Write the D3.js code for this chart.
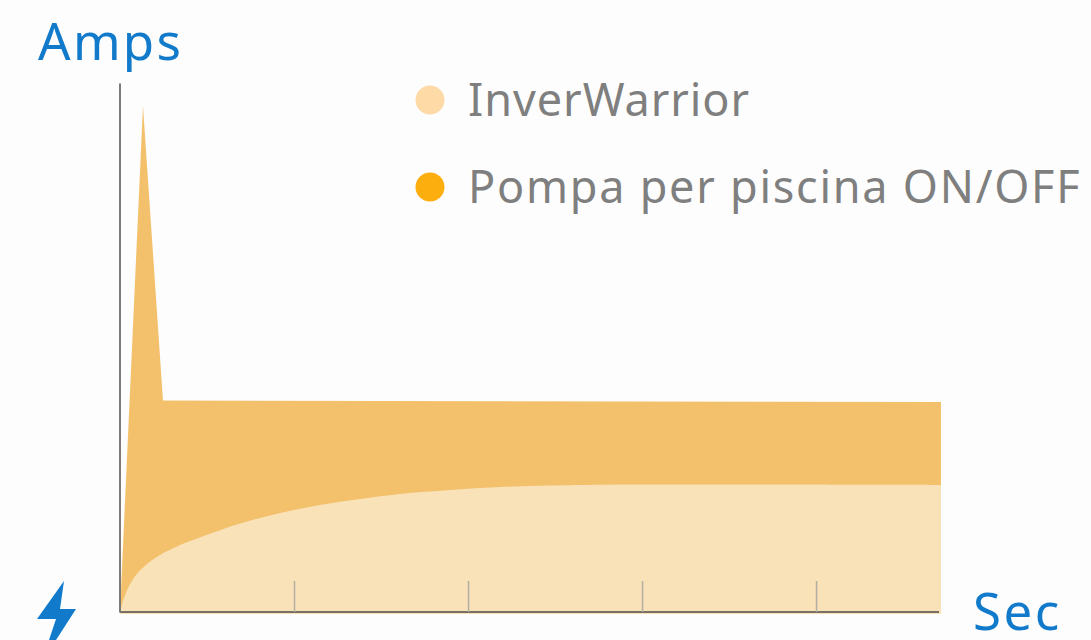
<!DOCTYPE html>
<html>
<head>
<meta charset="utf-8">
<script src="https://cdn.jsdelivr.net/npm/d3@7"></script>
<style>
  html, body { margin: 0; padding: 0; background: #fdfdfd; }
  text { font-family: "Noto Sans", sans-serif; }
</style>
</head>
<body>
<div id="chart"></div>
<script>
// values, time in tick steps, current in % of the start peak
var pumpTime = [0, 0.132, 0.247, 4.718];
var pumpAmps = [0, 100, 41.8, 41.5];
var inverTime = [0, 0.006, 0.023, 0.052, 0.092, 0.149, 0.23, 0.333, 0.489, 0.69, 0.92, 1.149, 1.379, 1.609, 1.897, 2.184, 2.471, 2.759, 3.218, 4.718];
var inverAmps = [0, 0.79, 2.77, 5.14, 7.31, 9.29, 11.26, 13.04, 15.12, 17.49, 19.57, 21.15, 22.33, 23.32, 24.11, 24.7, 25, 25.16, 25.2, 25.1];
var tickValues = [1, 2, 3, 4];
var legendLabels = ["InverWarrior", "Pompa per piscina ON/OFF"];
var legendColors = ["#fedaa6", "#fbae0e"];

var width = 1091, height = 640;

var x = d3.scaleLinear().domain([0, 4.718]).range([120, 941]);
var y = d3.scaleLinear().domain([0, 100]).range([612, 106]);

var svg = d3.select("#chart")
    .append("svg")
    .attr("width", width)
    .attr("height", height)
    .style("display", "block");

// both areas run a little under the axis line, like the original
var pumpArea = d3.area()
    .x(function(d) { return x(d[0]); })
    .y0(y(0) + 1.5)
    .y1(function(d) { return y(d[1]); });

var inverArea = d3.area()
    .curve(d3.curveCatmullRom)
    .x(function(d) { return x(d[0]); })
    .y0(y(0) + 1.5)
    .y1(function(d) { return y(d[1]); });

svg.append("path")
    .attr("d", pumpArea(d3.zip(pumpTime, pumpAmps)))
    .attr("fill", "#f3c16b");

svg.append("path")
    .attr("d", inverArea(d3.zip(inverTime, inverAmps)))
    .attr("fill", "#f9e1b8");

// ticks go up inside the plot, no labels
var xAxis = d3.axisBottom(x)
    .tickValues(tickValues)
    .tickSize(-31)
    .tickSizeOuter(0)
    .tickFormat("");

var gx = svg.append("g")
    .attr("transform", "translate(0," + y(0) + ")")
    .call(xAxis);
gx.selectAll(".tick line")
    .attr("stroke", "#b3aea6")
    .attr("stroke-width", 1.5);
gx.select(".domain")
    .attr("stroke", "#4d4a48")
    .attr("stroke-width", 1.5)
    .attr("d", "M" + x(0) + ",0H939");

var yAxis = d3.axisLeft(d3.scaleLinear().domain([0, 1]).range([612, 83]))
    .tickValues([])
    .tickSizeOuter(0);

var gy = svg.append("g")
    .attr("transform", "translate(119.5,0)")
    .call(yAxis);
gy.select(".domain")
    .attr("stroke", "#7f7a76")
    .attr("stroke-width", 2);

// legend
var legend = svg.selectAll("g.legend")
    .data(legendLabels)
    .enter().append("g")
    .attr("class", "legend")
    .attr("transform", function(d, i) { return "translate(430," + (100 + i * 87) + ")"; });

legend.append("circle")
    .attr("r", 14.5)
    .attr("fill", function(d, i) { return legendColors[i]; });

legend.append("text")
    .attr("x", 38)
    .attr("y", 15.8)
    .attr("font-size", 45)
    .attr("letter-spacing", function(d, i) { return i ? 1.75 : 0.95; })
    .attr("fill", "#7f7f7f")
    .text(function(d) { return d; });

// axis titles
svg.append("text")
    .attr("x", 38)
    .attr("y", 60)
    .attr("font-size", 51)
    .attr("letter-spacing", 2.3)
    .attr("fill", "#117acb")
    .text("Amps");

svg.append("text")
    .attr("x", 973)
    .attr("y", 629.5)
    .attr("font-size", 51)
    .attr("letter-spacing", 2.5)
    .attr("fill", "#117acb")
    .text("Sec");

// bolt icon
svg.append("path")
    .attr("d", "M64,581L37,619H56L49,640H56L76,609H60Z")
    .attr("fill", "#117acb");
</script>
</body>
</html>
